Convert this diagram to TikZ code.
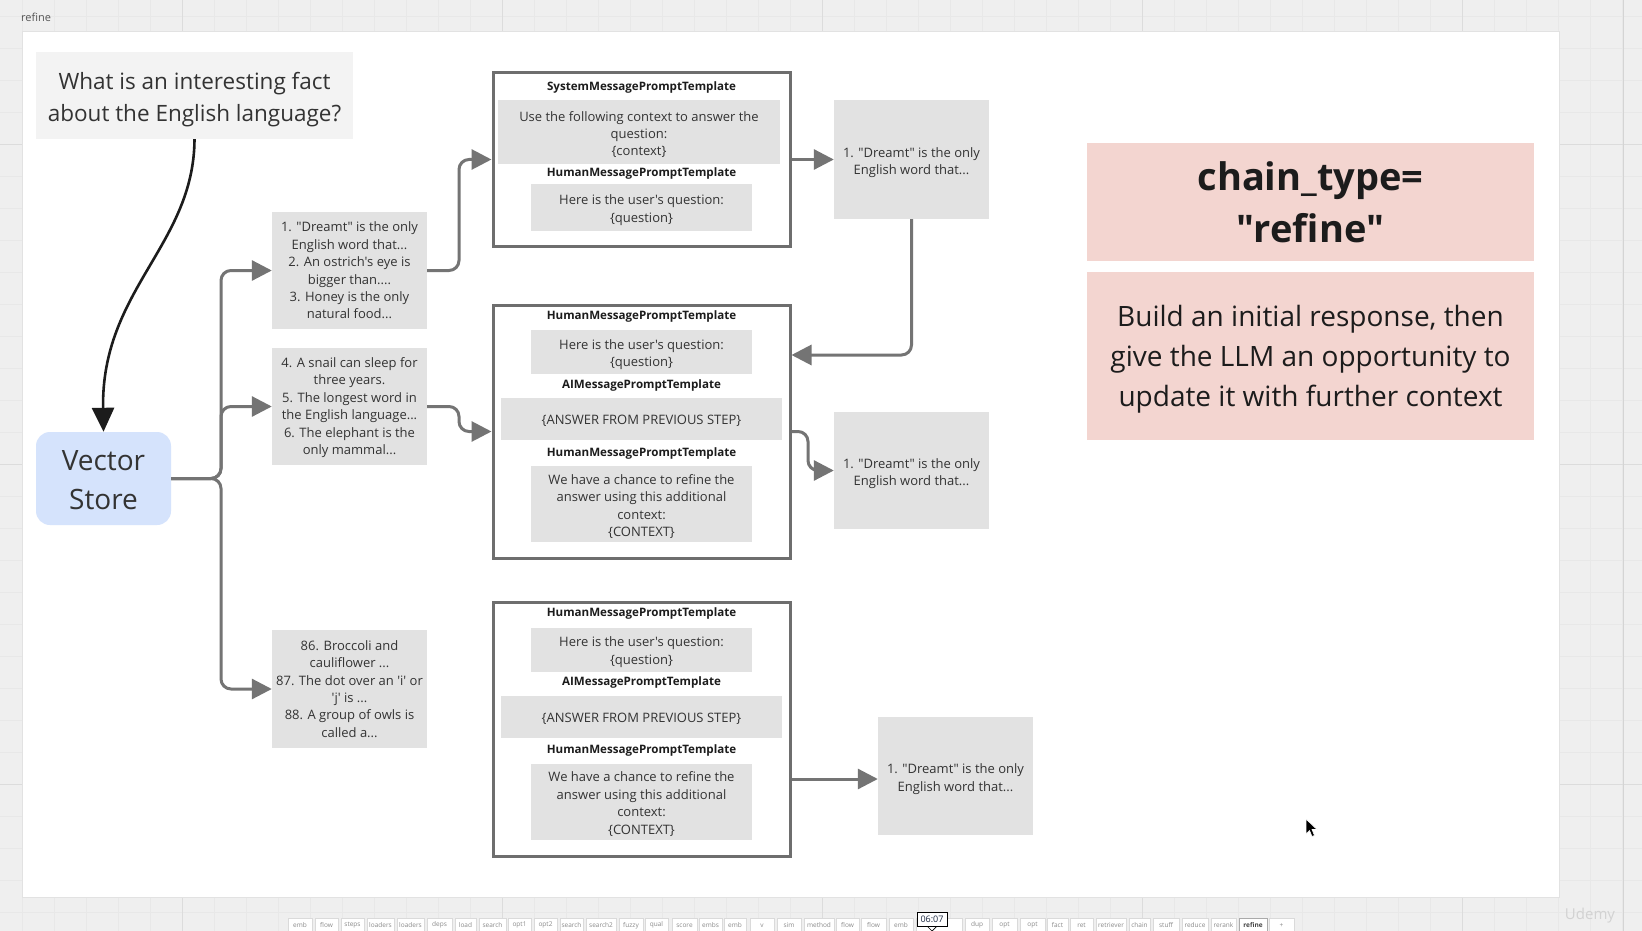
\documentclass[tikz,border=0pt]{standalone}
\usepackage{fontspec}
\setmainfont{Open Sans}[Ligatures=TeXOff]
\usetikzlibrary{arrows.meta}
\definecolor{bggrey}{HTML}{EFEFEF}
\definecolor{gridminor}{HTML}{E8E8E8}
\definecolor{gridmajor}{HTML}{DCDCDC}
\definecolor{qgrey}{HTML}{F3F3F3}
\definecolor{boxgrey}{HTML}{E2E2E2}
\definecolor{vsblue}{HTML}{D5E3FC}
\definecolor{pinkbox}{HTML}{F3D5D0}
\definecolor{bord}{HTML}{6E6E6E}
\definecolor{agrey}{HTML}{747474}
\definecolor{txt}{HTML}{333333}
\definecolor{dark}{HTML}{1C1C1C}
\definecolor{tabline}{HTML}{DADADA}
\definecolor{tabtxt}{HTML}{8A8A8A}
\definecolor{edgeline}{HTML}{D4D4D4}
\definecolor{canvasline}{HTML}{E2E2E2}
\definecolor{lbltxt}{HTML}{555555}
\definecolor{tabsel}{HTML}{AAAAAA}
\definecolor{tabseltxt}{HTML}{444444}
\definecolor{ttxt}{HTML}{1A2740}
\definecolor{wmark}{HTML}{D2D2D2}
\newcommand{\lift}[1]{\rule{0pt}{#1}}
\begin{document}
\begin{tikzpicture}[x=1pt,y=-1pt,
  qbox/.style={fill=qgrey, minimum width=317pt, minimum height=87pt, inner sep=0pt,
    align=center, text=txt, font=\fontsize{22.5}{32}\selectfont},
  vsbox/.style={fill=vsblue, rounded corners=14pt, minimum width=135pt, minimum height=93pt,
    inner sep=0pt, align=center, text=txt, font=\fontsize{28}{38.5}\selectfont},
  gbox/.style={fill=boxgrey, inner sep=0pt, align=center, text=txt,
    font=\fontsize{13}{17.4}\selectfont},
  pbox/.style={draw=bord, line width=3pt, fill=white, minimum width=297pt, inner sep=0pt},
  hdr/.style={inner sep=0pt, text=dark, font=\fontsize{11.6}{14}\selectfont\bfseries},
  pinkb/.style={fill=pinkbox, minimum width=447pt, inner sep=0pt, align=center, text=dark},
  conn/.style={draw=agrey, line width=3pt, rounded corners=10pt,
    -{Triangle[length=20pt,width=20pt]}},
  tab/.style={fill=white, draw=tabline, line width=0.6pt, inner sep=0pt, text=tabtxt,
    font=\fontsize{6.5}{7}\selectfont, anchor=north},
]
\useasboundingbox (0,0) rectangle (1642,931);
% background and grid
\fill[bggrey] (0,0) rectangle (1642,931);
\foreach \k in {0,...,50} {\draw[gridminor, line width=0.7pt] ({22+32*\k},0) -- ({22+32*\k},931);}
\foreach \k in {0,...,29} {\draw[gridminor, line width=0.7pt] (0,{16+32*\k}) -- (1642,{16+32*\k});}
\foreach \k in {0,...,4} {\draw[gridmajor, line width=0.9pt] ({182+320*\k},0) -- ({182+320*\k},931);}
\foreach \k in {0,...,2} {\draw[gridmajor, line width=0.9pt] (0,{144+320*\k}) -- (1642,{144+320*\k});}
\draw[edgeline, line width=1pt] (1623,0) -- (1623,931);
\fill[white] (22,31) rectangle (1559,897);
\draw[canvasline, line width=0.8pt] (22,31) rectangle (1559,897);
\node[anchor=west, inner sep=0pt, text=lbltxt, font=\fontsize{11}{11}\selectfont] (lbl) at (21,17) {refine};

% question and vector store
\node[qbox] (q) at (194.5,95.5) {\lift{25pt}What is an interesting fact\\about the English language?};
\node[vsbox] (vs) at (103.5,478.5) {\lift{23pt}Vector\\Store};

% chunks
\node[gbox, minimum width=155pt, minimum height=117pt] (c1) at (349.5,270.5)
  {1. "Dreamt" is the only\\English word that...\\2. An ostrich's eye is\\bigger than....\\3. Honey is the only\\natural food...};
\node[gbox, minimum width=155pt, minimum height=117pt] (c2) at (349.5,406.5)
  {\lift{12pt}4. A snail can sleep for\\three years.\\5. The longest word in\\the English language...\\6. The elephant is the\\only mammal...};
\node[gbox, minimum width=155pt, minimum height=118pt] (c3) at (349.5,689)
  {86. Broccoli and\\cauliflower ...\\87. The dot over an 'i' or\\'j' is ...\\88. A group of owls is\\called a...};

% prompt box 1
\node[pbox, minimum height=173pt] (p1) at (641.5,159.5) {};
\node[hdr] (p1t) at (641.5,87.5) {SystemMessagePromptTemplate};
\node[gbox, minimum width=282pt, minimum height=64pt] (p1s) at (639,132)
  {\lift{15pt}Use the following context to answer the\\question:\\\{context\}};
\node[hdr] (p1u) at (641.5,173.5) {HumanMessagePromptTemplate};
\node[gbox, minimum width=221pt, minimum height=47pt] (p1h) at (641.5,207.5)
  {\lift{15pt}Here is the user's question:\\\{question\}};

% prompt box 2
\node[pbox, minimum height=253pt] (p2) at (641.5,431.5) {};
\node[hdr] (p2t) at (641.5,316.5) {HumanMessagePromptTemplate};
\node[gbox, minimum width=221pt, minimum height=44pt] (p2a) at (641.5,352)
  {\lift{15pt}Here is the user's question:\\\{question\}};
\node[hdr] (p2u) at (641.5,385.5) {AIMessagePromptTemplate};
\node[gbox, minimum width=281pt, minimum height=42pt] (p2b) at (641.5,419)
  {\lift{14pt}\{ANSWER FROM PREVIOUS STEP\}};
\node[hdr] (p2v) at (641.5,453.5) {HumanMessagePromptTemplate};
\node[gbox, minimum width=221pt, minimum height=76pt] (p2c) at (641.5,504)
  {\lift{15pt}We have a chance to refine the\\answer using this additional\\context:\\\{CONTEXT\}};

% prompt box 3
\node[pbox, minimum height=254pt] (p3) at (641.5,729) {};
\node[hdr] (p3t) at (641.5,613.5) {HumanMessagePromptTemplate};
\node[gbox, minimum width=221pt, minimum height=44pt] (p3a) at (641.5,649.5)
  {\lift{15pt}Here is the user's question:\\\{question\}};
\node[hdr] (p3u) at (641.5,682.5) {AIMessagePromptTemplate};
\node[gbox, minimum width=281pt, minimum height=42pt] (p3b) at (641.5,716.5)
  {\lift{14pt}\{ANSWER FROM PREVIOUS STEP\}};
\node[hdr] (p3v) at (641.5,750.5) {HumanMessagePromptTemplate};
\node[gbox, minimum width=221pt, minimum height=76pt] (p3c) at (641.5,801.5)
  {\lift{15pt}We have a chance to refine the\\answer using this additional\\context:\\\{CONTEXT\}};

% outputs
\node[gbox, minimum width=155pt, minimum height=119pt] (o1) at (911.5,159.5)
  {\lift{16pt}1. "Dreamt" is the only\\English word that...};
\node[gbox, minimum width=155pt, minimum height=117pt] (o2) at (911.5,470.5)
  {\lift{16pt}1. "Dreamt" is the only\\English word that...};
\node[gbox, minimum width=155pt, minimum height=118pt] (o3) at (955.5,776)
  {\lift{16pt}1. "Dreamt" is the only\\English word that...};

% pink boxes
\node[pinkb, minimum height=118pt, font=\fontsize{38}{52}\selectfont\bfseries] (k1) at (1310.5,202)
  {chain\_type=\\"refine"};
\node[pinkb, minimum height=168pt, font=\fontsize{28}{40}\selectfont] (k2) at (1310.5,356)
  {\lift{27.5pt}Build an initial response, then\\give the LLM an opportunity to\\update it with further context};

% connectors
\coordinate (j) at (221,478.5);
\draw[conn] (vs.east) -- (j) |- (c1.west);
\draw[conn] (vs.east) -- (j) |- (c2.west);
\draw[conn] (vs.east) -- (j) |- (c3.west);
\coordinate (m1) at (459,270.5);
\draw[conn] (c1.east) -- (m1) |- (p1.west);
\draw[conn] (p1.east) -- (o1.west);
\draw[conn] (o1.south) |- (p2.east |- 0,355);
\coordinate (m2) at (459,406.5);
\draw[conn] (c2.east) -- (m2) |- (p2.west);
\coordinate (m3) at (808,431.5);
\draw[conn] (p2.east) -- (m3) |- (o2.west);
\draw[conn] (p3.east |- 0,779) -- (o3.west |- 0,779);
\draw[line width=2.6pt, draw=dark, -{Triangle[length=24pt,width=22pt]}]
  (q.south) .. controls (194,245) and (101,290) .. (vs.north);

% cursor
\filldraw[fill=black, draw=white, line width=0.6pt]
  (1306,819) -- (1306,834) -- (1309.5,830.5) -- (1312,836.5) -- (1314.5,835.5) -- (1312,829.5) -- (1317,829.5) -- cycle;

% tab bar
\foreach \a/\b/\t in {288/312/emb,315/338/flow,341/364/steps,367/394/loaders,397/424/loaders,
  427/452/deps,455/476/load,479/506/search,508/531/opt1,534/557/opt2,560/583/search,
  586/616/search2,619/643/fuzzy,645/668/qual,672/697/score,699/722/embs,724/746/emb,
  750/774/v,777/801/sim,804/834/method,836/859/flow,861/886/flow,889/913/emb,916/962/diff,
  965/989/dup,992/1017/opt,1020/1045/opt,1047/1068/fact,1070/1093/ret,1096/1126/retriever,
  1129/1150/chain,1153/1179/stuff,1182/1208/reduce,1211/1236/rerank,1269/1294/+} {
  \pgfmathsetmacro\w{\b-\a}
  \pgfmathsetmacro\cx{(\a+\b)/2}
  \node[tab, minimum width=\w pt, minimum height=14pt] (tab\a) at (\cx,918) {\t};
}
\node[tab, minimum width=28pt, minimum height=14pt, draw=tabsel,
  line width=1pt, text=tabseltxt, font=\fontsize{6.5}{7}\selectfont\bfseries]
  (tabrefine) at (1253,918) {refine};
% tooltip
\fill[white] (927,925) -- (937,925) -- (932,931) -- cycle;
\draw[black, line width=0.7pt] (927,926) -- (932,931) -- (937,926);
\node[draw=black, fill=white, line width=0.8pt, inner sep=0pt, minimum width=30pt, minimum height=14pt,
  text=ttxt, font=\fontsize{9}{9}\selectfont] (tt) at (932,919) {06:07};
% watermark
\node[inner sep=0pt, text=wmark, font=\fontsize{15}{15}\selectfont] (udemy) at (1590,916) {Udemy};
\end{tikzpicture}
\end{document}
